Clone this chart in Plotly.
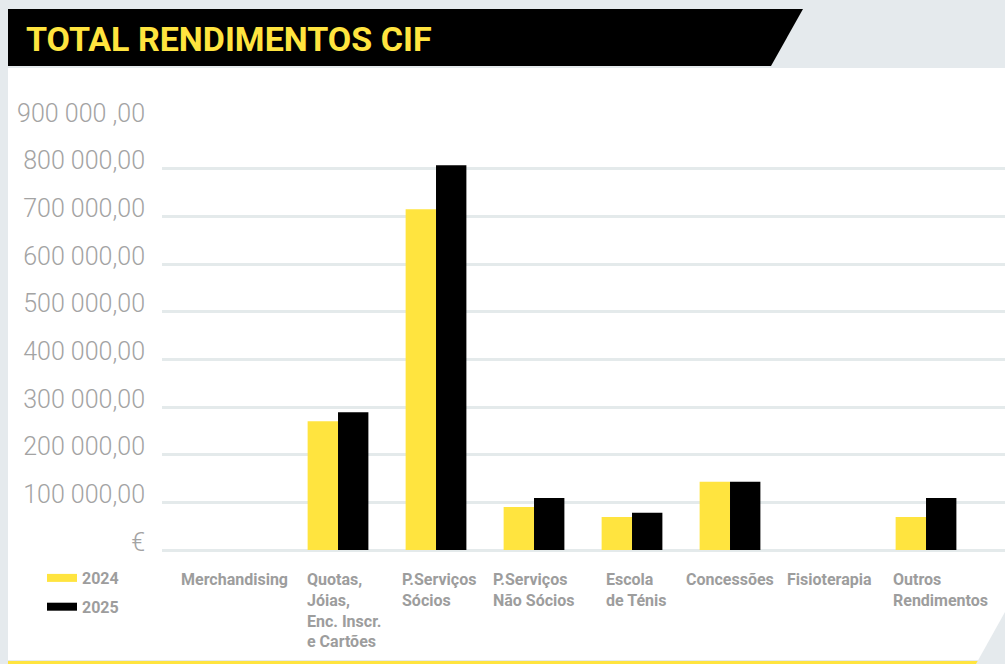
import plotly.graph_objects as go

# ---- data ----
categories = ["Merchandising", "Quotas, Jóias, Enc. Inscr. e Cartões", "P.Serviços Sócios",
              "P.Serviços Não Sócios", "Escola de Ténis", "Concessões", "Fisioterapia",
              "Outros Rendimentos"]
category_labels = ["Merchandising", "Quotas,<br>Jóias,<br>Enc. Inscr.<br>e Cartões",
                   "P.Serviços<br>Sócios", "P.Serviços<br>Não Sócios", "Escola<br>de Ténis",
                   "Concessões", "Fisioterapia", "Outros<br>Rendimentos"]
values_2024 = [0, 270000, 715000, 90000, 69000, 143000, 0, 69000]
values_2025 = [0, 289000, 807000, 109000, 78000, 143000, 0, 109000]
y_tickvals = [0, 100000, 200000, 300000, 400000, 500000, 600000, 700000, 800000, 900000]
y_ticktext = ["€", "100 000,00", "200 000,00", "300 000,00", "400 000,00", "500 000,00",
              "600 000,00", "700 000,00", "800 000,00", "900 000 ,00"]
series_names = ["2024", "2025"]

# label nudges (layout only, px)
label_xshift = [-6, 6, 3, 0, 4, 0, 1, 14]

YELLOW = "#ffe43f"
BLACK = "#000000"
GREY_TXT = "#9d9d9d"
BG = "#e5eaed"
FONT = "Roboto, Arial, sans-serif"

W, H = 1005, 664
L, R, T, B = 162, 0, 121, 114
pw, ph = W - L - R, H - T - B


def px(x):
    return (x - L) / pw


def py(y):
    return (H - B - y) / ph


fig = go.Figure()
fig.add_trace(go.Bar(x=categories, y=values_2024, name=series_names[0],
                     marker=dict(color=YELLOW, line=dict(width=0)), showlegend=False))
fig.add_trace(go.Bar(x=categories, y=values_2025, name=series_names[1],
                     marker=dict(color=BLACK, line=dict(width=0)), showlegend=False))
# legend entries (line swatches)
for name, col in zip(series_names, [YELLOW, BLACK]):
    fig.add_trace(go.Scatter(x=[None], y=[None], mode="lines", name=name, legendgroup=name,
                             line=dict(color=col, width=8)))

shapes = [
    # white panel
    dict(type="rect", xref="paper", yref="paper", x0=px(8), x1=px(1005), y0=py(660), y1=py(68),
         fillcolor="white", line=dict(width=0), layer="below"),
    # title banner
    dict(type="path", xref="paper", yref="paper",
         path=f"M {px(8)} {py(9)} L {px(803)} {py(9)} L {px(771)} {py(66)} L {px(8)} {py(66)} Z",
         fillcolor="black", line=dict(width=0), layer="below"),
    # bottom yellow line
    dict(type="line", xref="paper", yref="paper", x0=px(8), x1=px(978), y0=py(662.5), y1=py(662.5),
         line=dict(color=YELLOW, width=3), layer="below"),
    # bottom-right grey corner
    dict(type="path", xref="paper", yref="paper",
         path=f"M {px(1005)} {py(612)} L {px(976)} {py(664)} L {px(1005)} {py(664)} Z",
         fillcolor=BG, line=dict(width=0), layer="below"),
]

annotations = [
    dict(text="<b>TOTAL RENDIMENTOS CIF</b>", xref="paper", yref="paper", x=px(24), y=py(39),
         xanchor="left", yanchor="middle", showarrow=False,
         font=dict(family=FONT, size=34, color=YELLOW)),
]
for cat, lab, dx in zip(categories, category_labels, label_xshift):
    annotations.append(dict(text=f"<b>{lab}</b>", x=cat, xref="x", yref="paper", y=py(568),
                            xanchor="center", yanchor="top", align="left", showarrow=False,
                            xshift=dx, font=dict(family=FONT, size=16, color=GREY_TXT)))

fig.update_layout(
    width=W, height=H,
    margin=dict(l=L, r=R, t=T, b=B, pad=0),
    paper_bgcolor=BG, plot_bgcolor="rgba(0,0,0,0)",
    barmode="group", bargap=0.38, bargroupgap=0,
    shapes=shapes, annotations=annotations,
    showlegend=True,
    legend=dict(x=px(42), y=py(561), xanchor="left", yanchor="top",
                bgcolor="rgba(0,0,0,0)", tracegroupgap=5,
                font=dict(family=FONT, size=16, color=GREY_TXT, weight="bold")),
    xaxis=dict(range=[-0.796, 7.806], showticklabels=False, showgrid=False, zeroline=False,
               showline=False, ticks=""),
    yaxis=dict(range=[0, 900000], tickvals=y_tickvals, ticktext=y_ticktext,
               showgrid=True, gridcolor="#e4eaeb", gridwidth=2.5,
               zeroline=True, zerolinecolor="#e4eaeb", zerolinewidth=2.5,
               showline=False, ticks="", ticklabelstandoff=16, ticklabelshift=-8,
               tickfont=dict(family=FONT, size=25, color="#a3a3a3", weight=300)),
)

fig.write_html("out.html", config={"displayModeBar": False},
               post_script="document.body.style.margin='0';")
